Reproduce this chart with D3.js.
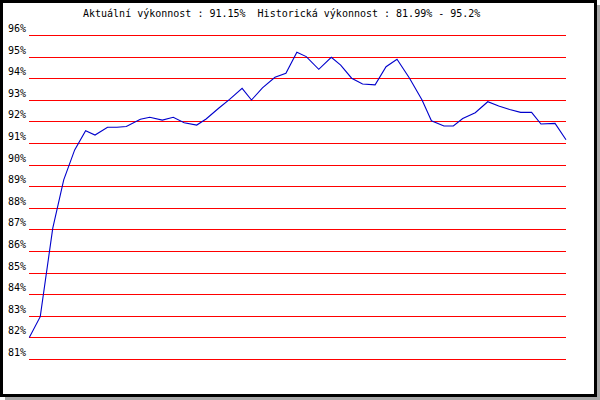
<!DOCTYPE html>
<html>
<head>
<meta charset="utf-8">
<script src="https://cdn.jsdelivr.net/npm/d3@7"></script>
<style>
  body { margin: 0; background: #fff; }
  text { font-family: "DejaVu Sans Mono", monospace; font-size: 10px; fill: #000; }
</style>
</head>
<body>
<div id="chart"></div>
<script>
// days since first sample
var days = [0, 7, 15, 22, 29, 36, 42, 50, 56, 62, 71, 77, 85, 92, 99, 107, 113, 121, 128, 136,
  142, 149, 157, 164, 171, 177, 185, 193, 199, 206, 213, 221, 228, 235, 243, 251, 257, 265, 271, 277,
  285, 293, 300, 307, 314, 321, 327, 336, 343];
// performance in %
var perf = [81.99, 82.96, 87.06, 89.29, 90.68, 91.57, 91.37, 91.73, 91.73, 91.76, 92.10, 92.19, 92.06, 92.19, 91.94, 91.83, 92.11, 92.61, 93.02, 93.53,
  92.99, 93.55, 94.04, 94.23, 95.2, 95.0, 94.41, 94.97, 94.61, 94.0, 93.73, 93.69, 94.53, 94.88, 94.0, 92.99, 92.03, 91.79, 91.79, 92.13,
  92.4, 92.91, 92.71, 92.55, 92.42, 92.42, 91.88, 91.91, 91.15];
var yTicks = [81, 82, 83, 84, 85, 86, 87, 88, 89, 90, 91, 92, 93, 94, 95, 96];
var title = "Aktuální výkonnost : 91.15%  Historická výkonnost : 81.99% - 95.2%";

var width = 600, height = 400;
var margin = { top: 35, right: 34, bottom: 41, left: 29.3 };

var data = days.map(function (d, i) { return { day: d, value: perf[i] }; });

var svg = d3.select('#chart').append('svg')
    .attr('width', width)
    .attr('height', height);

// shadow + frame
svg.append('rect')
    .attr('x', 5).attr('y', 5)
    .attr('width', width - 5).attr('height', height - 5)
    .attr('fill', '#a8a8a8');
svg.append('rect')
    .attr('x', 1.5).attr('y', 1.5)
    .attr('width', 594).attr('height', 394)
    .attr('fill', '#fff')
    .attr('stroke', '#000')
    .attr('stroke-width', 3);

var x = d3.scaleLinear()
    .domain(d3.extent(days))
    .range([margin.left, width - margin.right]);
var y = d3.scaleLinear()
    .domain([81, 96])
    .range([height - margin.bottom, margin.top]);

// grid lines
svg.append('g')
    .selectAll('line')
    .data(yTicks)
    .join('line')
    .attr('x1', 29)
    .attr('x2', 566)
    .attr('y1', function (d) { return Math.round(y(d)) + 0.5; })
    .attr('y2', function (d) { return Math.round(y(d)) + 0.5; })
    .attr('stroke', '#ff0000')
    .attr('stroke-width', 1)
    .attr('shape-rendering', 'crispEdges');

// y labels
svg.append('g')
    .selectAll('text')
    .data(yTicks)
    .join('text')
    .attr('x', 26)
    .attr('y', function (d) { return y(d) - 3; })
    .attr('text-anchor', 'end')
    .text(function (d) { return d + '%'; });

var line = d3.line()
    .x(function (d) { return x(d.day); })
    .y(function (d) { return y(d.value); });

svg.append('path')
    .datum(data)
    .attr('fill', 'none')
    .attr('stroke', '#0000cc')
    .attr('stroke-width', 1.1)
    .attr('d', line);

svg.append('text')
    .attr('x', 83)
    .attr('y', 17)
    .attr('xml:space', 'preserve')
    .style('white-space', 'pre')
    .text(title);
</script>
</body>
</html>
